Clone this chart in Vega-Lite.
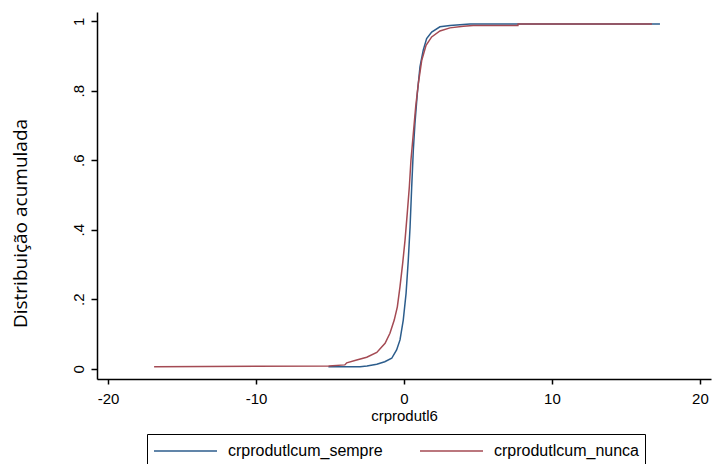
{
  "$schema": "https://vega.github.io/schema/vega-lite/v6.json",
  "autosize": {"type": "none"},
  "padding": {"left": 97, "top": 12, "right": 1, "bottom": 85},
  "width": 614,
  "height": 367,
  "background": "white",
  "config": {
    "view": {"stroke": null},
    "axis": {"grid": false, "domainColor": "#000000", "domainWidth": 1.5, "tickColor": "#000000", "tickWidth": 1.5, "labelColor": "#000000", "titleColor": "#000000"}
  },
  "data": {
    "values": [
      {"s": "crprodutlcum_sempre", "x": -5.11, "y": 0.006},
      {"s": "crprodutlcum_sempre", "x": -2.97, "y": 0.006},
      {"s": "crprodutlcum_sempre", "x": -2.5, "y": 0.008},
      {"s": "crprodutlcum_sempre", "x": -1.84, "y": 0.013},
      {"s": "crprodutlcum_sempre", "x": -1.3, "y": 0.02},
      {"s": "crprodutlcum_sempre", "x": -0.83, "y": 0.03},
      {"s": "crprodutlcum_sempre", "x": -0.5, "y": 0.054},
      {"s": "crprodutlcum_sempre", "x": -0.27, "y": 0.083},
      {"s": "crprodutlcum_sempre", "x": -0.05, "y": 0.14},
      {"s": "crprodutlcum_sempre", "x": 0.14, "y": 0.217},
      {"s": "crprodutlcum_sempre", "x": 0.29, "y": 0.313},
      {"s": "crprodutlcum_sempre", "x": 0.41, "y": 0.408},
      {"s": "crprodutlcum_sempre", "x": 0.52, "y": 0.523},
      {"s": "crprodutlcum_sempre", "x": 0.63, "y": 0.629},
      {"s": "crprodutlcum_sempre", "x": 0.74, "y": 0.706},
      {"s": "crprodutlcum_sempre", "x": 0.9, "y": 0.792},
      {"s": "crprodutlcum_sempre", "x": 1.08, "y": 0.869},
      {"s": "crprodutlcum_sempre", "x": 1.3, "y": 0.917},
      {"s": "crprodutlcum_sempre", "x": 1.53, "y": 0.95},
      {"s": "crprodutlcum_sempre", "x": 1.87, "y": 0.969},
      {"s": "crprodutlcum_sempre", "x": 2.43, "y": 0.984},
      {"s": "crprodutlcum_sempre", "x": 3.11, "y": 0.988},
      {"s": "crprodutlcum_sempre", "x": 4.46, "y": 0.992},
      {"s": "crprodutlcum_sempre", "x": 17.3, "y": 0.992},
      {"s": "crprodutlcum_nunca", "x": -16.89, "y": 0.006},
      {"s": "crprodutlcum_nunca", "x": -5.1, "y": 0.008},
      {"s": "crprodutlcum_nunca", "x": -4.0, "y": 0.011},
      {"s": "crprodutlcum_nunca", "x": -3.87, "y": 0.017},
      {"s": "crprodutlcum_nunca", "x": -3.2, "y": 0.025},
      {"s": "crprodutlcum_nunca", "x": -2.52, "y": 0.033},
      {"s": "crprodutlcum_nunca", "x": -1.84, "y": 0.047},
      {"s": "crprodutlcum_nunca", "x": -1.28, "y": 0.073},
      {"s": "crprodutlcum_nunca", "x": -0.95, "y": 0.102},
      {"s": "crprodutlcum_nunca", "x": -0.66, "y": 0.14},
      {"s": "crprodutlcum_nunca", "x": -0.45, "y": 0.178},
      {"s": "crprodutlcum_nunca", "x": -0.27, "y": 0.236},
      {"s": "crprodutlcum_nunca", "x": -0.09, "y": 0.303},
      {"s": "crprodutlcum_nunca", "x": 0.07, "y": 0.37},
      {"s": "crprodutlcum_nunca", "x": 0.22, "y": 0.447},
      {"s": "crprodutlcum_nunca", "x": 0.36, "y": 0.523},
      {"s": "crprodutlcum_nunca", "x": 0.47, "y": 0.6},
      {"s": "crprodutlcum_nunca", "x": 0.63, "y": 0.677},
      {"s": "crprodutlcum_nunca", "x": 0.79, "y": 0.754},
      {"s": "crprodutlcum_nunca", "x": 0.97, "y": 0.821},
      {"s": "crprodutlcum_nunca", "x": 1.2, "y": 0.888},
      {"s": "crprodutlcum_nunca", "x": 1.49, "y": 0.931},
      {"s": "crprodutlcum_nunca", "x": 1.87, "y": 0.955},
      {"s": "crprodutlcum_nunca", "x": 2.43, "y": 0.972},
      {"s": "crprodutlcum_nunca", "x": 3.11, "y": 0.981},
      {"s": "crprodutlcum_nunca", "x": 4.01, "y": 0.986},
      {"s": "crprodutlcum_nunca", "x": 4.68, "y": 0.988},
      {"s": "crprodutlcum_nunca", "x": 7.7, "y": 0.988},
      {"s": "crprodutlcum_nunca", "x": 7.71, "y": 0.992},
      {"s": "crprodutlcum_nunca", "x": 16.76, "y": 0.992}
    ]
  },
  "encoding": {
    "x": {
      "field": "x", "type": "quantitative",
      "scale": {"domain": [-20.75, 20.75], "nice": false, "zero": false},
      "axis": {
        "values": [-20, -10, 0, 10, 20], "title": "crprodutl6",
        "labelExpr": "datum.value < 0 ? '-' + abs(datum.value) : '' + datum.value",
        "labelFont": "Liberation Sans", "labelFontSize": 15, "labelPadding": 7, "tickSize": 5,
        "titleFont": "Liberation Sans", "titleFontSize": 15, "titleFontWeight": "normal",
        "titleBaseline": "middle", "titleY": 36
      }
    },
    "y": {
      "field": "y", "type": "quantitative",
      "scale": {"domain": [-0.0296, 1.0267], "nice": false, "zero": false},
      "axis": {
        "values": [0, 0.2, 0.4, 0.6, 0.8, 1],
        "labelExpr": "datum.value == 0 ? '0' : datum.value == 1 ? '1' : '.' + round(datum.value * 10)",
        "labelAngle": 270, "labelAlign": "center", "labelBaseline": "bottom",
        "labelFont": "Liberation Sans", "labelFontSize": 15, "labelPadding": 5, "tickSize": 6,
        "title": "Distribuição acumulada", "titleFont": "Open Sans", "titleFontSize": 19, "titleFontWeight": "normal",
        "titleAngle": 270, "titleAlign": "center", "titleBaseline": "middle", "titleX": -77, "titleY": 211
      }
    },
    "color": {
      "field": "s", "type": "nominal",
      "scale": {"domain": ["crprodutlcum_sempre", "crprodutlcum_nunca"], "range": ["#2c5d8c", "#a44a53"]},
      "legend": {
        "title": null, "orient": "none", "legendX": 50, "legendY": 422, "direction": "horizontal",
        "strokeColor": "#000000", "padding": 6, "symbolType": "stroke", "symbolSize": 3969, "symbolStrokeWidth": 1.5,
        "clipHeight": 22,
        "labelFont": "Liberation Sans", "labelFontSize": 16, "labelOffset": 10, "columnPadding": 36, "labelLimit": 400
      }
    }
  },
  "layer": [
    {"transform": [{"filter": "datum.s == 'crprodutlcum_sempre'"}], "mark": {"type": "line", "strokeWidth": 1.5}},
    {"transform": [{"filter": "datum.s == 'crprodutlcum_nunca'"}], "mark": {"type": "line", "strokeWidth": 1.5}}
  ]
}
